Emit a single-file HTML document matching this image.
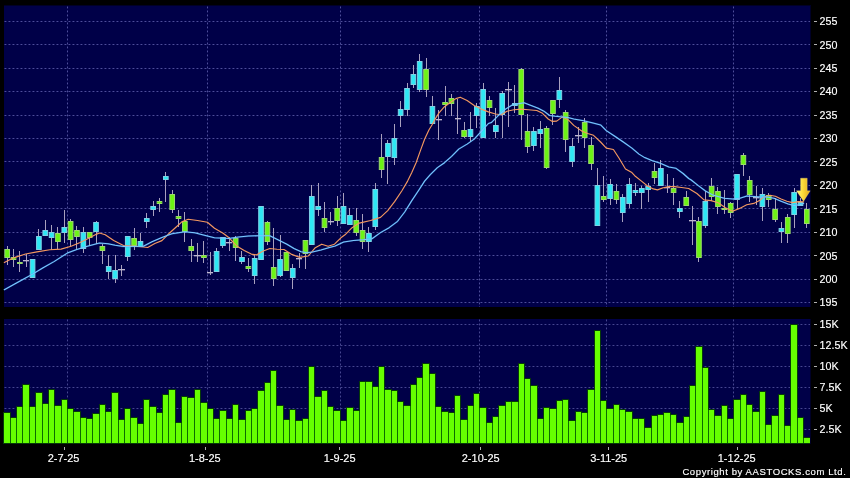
<!DOCTYPE html>
<html lang="en"><head><meta charset="utf-8"><title>Chart</title>
<style>
html,body{margin:0;padding:0;background:#000;overflow:hidden}
body{width:850px;height:478px;font-family:"Liberation Sans",Arial,sans-serif}
svg{display:block}
</style></head><body>
<svg width="850" height="478" viewBox="0 0 850 478">
<rect x="0" y="0" width="850" height="478" fill="#000"/>
<rect x="4" y="5" width="807" height="302" fill="#000026" shape-rendering="crispEdges"/>
<rect x="4" y="6" width="806" height="301" fill="#000048" shape-rendering="crispEdges"/>
<rect x="4" y="319" width="807" height="125" fill="#000026" shape-rendering="crispEdges"/>
<rect x="4" y="319" width="806" height="125" fill="#000048" shape-rendering="crispEdges"/>
<g stroke="#4e4e9a" stroke-width="1" stroke-dasharray="1.9 2.1" fill="none">
<line x1="4.5" x2="810" y1="21.5" y2="21.5"/>
<line x1="4.5" x2="810" y1="44.5" y2="44.5"/>
<line x1="4.5" x2="810" y1="68.5" y2="68.5"/>
<line x1="4.5" x2="810" y1="91.5" y2="91.5"/>
<line x1="4.5" x2="810" y1="115.5" y2="115.5"/>
<line x1="4.5" x2="810" y1="138.5" y2="138.5"/>
<line x1="4.5" x2="810" y1="161.5" y2="161.5"/>
<line x1="4.5" x2="810" y1="185.5" y2="185.5"/>
<line x1="4.5" x2="810" y1="208.5" y2="208.5"/>
<line x1="4.5" x2="810" y1="232.5" y2="232.5"/>
<line x1="4.5" x2="810" y1="255.5" y2="255.5"/>
<line x1="4.5" x2="810" y1="279.5" y2="279.5"/>
<line x1="4.5" x2="810" y1="302.5" y2="302.5"/>
<line x1="4.5" x2="810" y1="324.5" y2="324.5" stroke="#464690"/>
<line x1="4.5" x2="810" y1="345.5" y2="345.5" stroke="#464690"/>
<line x1="4.5" x2="810" y1="366.5" y2="366.5" stroke="#464690"/>
<line x1="4.5" x2="810" y1="387.5" y2="387.5" stroke="#464690"/>
<line x1="4.5" x2="810" y1="408.5" y2="408.5" stroke="#464690"/>
<line x1="4.5" x2="810" y1="429.5" y2="429.5" stroke="#464690"/>
<line x1="67.5" x2="67.5" y1="6.5" y2="307"/>
<line x1="67.5" x2="67.5" y1="319.5" y2="444" stroke="#464690"/>
<line x1="207.5" x2="207.5" y1="6.5" y2="307"/>
<line x1="207.5" x2="207.5" y1="319.5" y2="444" stroke="#464690"/>
<line x1="340.5" x2="340.5" y1="6.5" y2="307"/>
<line x1="340.5" x2="340.5" y1="319.5" y2="444" stroke="#464690"/>
<line x1="479.5" x2="479.5" y1="6.5" y2="307"/>
<line x1="479.5" x2="479.5" y1="319.5" y2="444" stroke="#464690"/>
<line x1="606.5" x2="606.5" y1="6.5" y2="307"/>
<line x1="606.5" x2="606.5" y1="319.5" y2="444" stroke="#464690"/>
<line x1="733.5" x2="733.5" y1="6.5" y2="307"/>
<line x1="733.5" x2="733.5" y1="319.5" y2="444" stroke="#464690"/>
</g>
<g stroke="#b0b0b0" stroke-width="1" shape-rendering="crispEdges">
<line x1="814" x2="817" y1="21.5" y2="21.5"/>
<line x1="814" x2="817" y1="44.5" y2="44.5"/>
<line x1="814" x2="817" y1="68.5" y2="68.5"/>
<line x1="814" x2="817" y1="91.5" y2="91.5"/>
<line x1="814" x2="817" y1="115.5" y2="115.5"/>
<line x1="814" x2="817" y1="138.5" y2="138.5"/>
<line x1="814" x2="817" y1="161.5" y2="161.5"/>
<line x1="814" x2="817" y1="185.5" y2="185.5"/>
<line x1="814" x2="817" y1="208.5" y2="208.5"/>
<line x1="814" x2="817" y1="232.5" y2="232.5"/>
<line x1="814" x2="817" y1="255.5" y2="255.5"/>
<line x1="814" x2="817" y1="279.5" y2="279.5"/>
<line x1="814" x2="817" y1="302.5" y2="302.5"/>
<line x1="814" x2="817" y1="324.5" y2="324.5"/>
<line x1="814" x2="817" y1="345.5" y2="345.5"/>
<line x1="814" x2="817" y1="366.5" y2="366.5"/>
<line x1="814" x2="817" y1="387.5" y2="387.5"/>
<line x1="814" x2="817" y1="408.5" y2="408.5"/>
<line x1="814" x2="817" y1="429.5" y2="429.5"/>
<line x1="64.5" x2="64.5" y1="447" y2="450"/>
<line x1="205.5" x2="205.5" y1="447" y2="450"/>
<line x1="339.5" x2="339.5" y1="447" y2="450"/>
<line x1="480.5" x2="480.5" y1="447" y2="450"/>
<line x1="608.5" x2="608.5" y1="447" y2="450"/>
<line x1="737.5" x2="737.5" y1="447" y2="450"/>
</g>
<g shape-rendering="crispEdges">
<rect x="3" y="412" width="8" height="32" fill="#063a08"/>
<rect x="10" y="417" width="7" height="27" fill="#063a08"/>
<rect x="16" y="406" width="7" height="38" fill="#063a08"/>
<rect x="22" y="384" width="8" height="60" fill="#063a08"/>
<rect x="29" y="406" width="7" height="38" fill="#063a08"/>
<rect x="35" y="392" width="8" height="52" fill="#063a08"/>
<rect x="42" y="403" width="7" height="41" fill="#063a08"/>
<rect x="48" y="389" width="7" height="55" fill="#063a08"/>
<rect x="54" y="405" width="8" height="39" fill="#063a08"/>
<rect x="61" y="399" width="7" height="45" fill="#063a08"/>
<rect x="67" y="408" width="7" height="36" fill="#063a08"/>
<rect x="73" y="411" width="8" height="33" fill="#063a08"/>
<rect x="80" y="417" width="7" height="27" fill="#063a08"/>
<rect x="86" y="418" width="7" height="26" fill="#063a08"/>
<rect x="92" y="413" width="8" height="31" fill="#063a08"/>
<rect x="99" y="404" width="7" height="40" fill="#063a08"/>
<rect x="105" y="411" width="7" height="33" fill="#063a08"/>
<rect x="111" y="392" width="8" height="52" fill="#063a08"/>
<rect x="118" y="419" width="7" height="25" fill="#063a08"/>
<rect x="124" y="408" width="7" height="36" fill="#063a08"/>
<rect x="130" y="417" width="8" height="27" fill="#063a08"/>
<rect x="137" y="423" width="7" height="21" fill="#063a08"/>
<rect x="143" y="399" width="7" height="45" fill="#063a08"/>
<rect x="149" y="406" width="8" height="38" fill="#063a08"/>
<rect x="156" y="412" width="7" height="32" fill="#063a08"/>
<rect x="162" y="394" width="7" height="50" fill="#063a08"/>
<rect x="168" y="389" width="8" height="55" fill="#063a08"/>
<rect x="175" y="422" width="7" height="22" fill="#063a08"/>
<rect x="181" y="396" width="7" height="48" fill="#063a08"/>
<rect x="187" y="397" width="8" height="47" fill="#063a08"/>
<rect x="194" y="389" width="7" height="55" fill="#063a08"/>
<rect x="200" y="402" width="8" height="42" fill="#063a08"/>
<rect x="207" y="408" width="7" height="36" fill="#063a08"/>
<rect x="213" y="418" width="7" height="26" fill="#063a08"/>
<rect x="219" y="410" width="8" height="34" fill="#063a08"/>
<rect x="226" y="418" width="7" height="26" fill="#063a08"/>
<rect x="232" y="404" width="7" height="40" fill="#063a08"/>
<rect x="238" y="419" width="8" height="25" fill="#063a08"/>
<rect x="245" y="410" width="7" height="34" fill="#063a08"/>
<rect x="251" y="408" width="7" height="36" fill="#063a08"/>
<rect x="257" y="390" width="8" height="54" fill="#063a08"/>
<rect x="264" y="382" width="7" height="62" fill="#063a08"/>
<rect x="270" y="370" width="7" height="74" fill="#063a08"/>
<rect x="276" y="405" width="8" height="39" fill="#063a08"/>
<rect x="283" y="419" width="7" height="25" fill="#063a08"/>
<rect x="289" y="409" width="7" height="35" fill="#063a08"/>
<rect x="295" y="420" width="8" height="24" fill="#063a08"/>
<rect x="302" y="418" width="7" height="26" fill="#063a08"/>
<rect x="308" y="366" width="7" height="78" fill="#063a08"/>
<rect x="314" y="396" width="8" height="48" fill="#063a08"/>
<rect x="321" y="390" width="7" height="54" fill="#063a08"/>
<rect x="327" y="406" width="7" height="38" fill="#063a08"/>
<rect x="333" y="410" width="8" height="34" fill="#063a08"/>
<rect x="340" y="420" width="7" height="24" fill="#063a08"/>
<rect x="346" y="407" width="8" height="37" fill="#063a08"/>
<rect x="353" y="410" width="7" height="34" fill="#063a08"/>
<rect x="359" y="381" width="7" height="63" fill="#063a08"/>
<rect x="365" y="381" width="8" height="63" fill="#063a08"/>
<rect x="372" y="386" width="7" height="58" fill="#063a08"/>
<rect x="378" y="366" width="7" height="78" fill="#063a08"/>
<rect x="384" y="389" width="8" height="55" fill="#063a08"/>
<rect x="391" y="390" width="7" height="54" fill="#063a08"/>
<rect x="397" y="401" width="7" height="43" fill="#063a08"/>
<rect x="403" y="405" width="8" height="39" fill="#063a08"/>
<rect x="410" y="384" width="7" height="60" fill="#063a08"/>
<rect x="416" y="377" width="7" height="67" fill="#063a08"/>
<rect x="422" y="363" width="8" height="81" fill="#063a08"/>
<rect x="429" y="373" width="7" height="71" fill="#063a08"/>
<rect x="435" y="406" width="7" height="38" fill="#063a08"/>
<rect x="441" y="411" width="8" height="33" fill="#063a08"/>
<rect x="448" y="412" width="7" height="32" fill="#063a08"/>
<rect x="454" y="395" width="7" height="49" fill="#063a08"/>
<rect x="460" y="419" width="8" height="25" fill="#063a08"/>
<rect x="467" y="405" width="7" height="39" fill="#063a08"/>
<rect x="473" y="393" width="7" height="51" fill="#063a08"/>
<rect x="479" y="407" width="8" height="37" fill="#063a08"/>
<rect x="486" y="422" width="7" height="22" fill="#063a08"/>
<rect x="492" y="416" width="7" height="28" fill="#063a08"/>
<rect x="498" y="405" width="8" height="39" fill="#063a08"/>
<rect x="505" y="401" width="7" height="43" fill="#063a08"/>
<rect x="511" y="401" width="8" height="43" fill="#063a08"/>
<rect x="518" y="363" width="7" height="81" fill="#063a08"/>
<rect x="524" y="378" width="7" height="66" fill="#063a08"/>
<rect x="530" y="385" width="8" height="59" fill="#063a08"/>
<rect x="537" y="418" width="7" height="26" fill="#063a08"/>
<rect x="543" y="407" width="7" height="37" fill="#063a08"/>
<rect x="549" y="408" width="8" height="36" fill="#063a08"/>
<rect x="556" y="400" width="7" height="44" fill="#063a08"/>
<rect x="562" y="399" width="7" height="45" fill="#063a08"/>
<rect x="568" y="420" width="8" height="24" fill="#063a08"/>
<rect x="575" y="411" width="7" height="33" fill="#063a08"/>
<rect x="581" y="412" width="7" height="32" fill="#063a08"/>
<rect x="587" y="389" width="8" height="55" fill="#063a08"/>
<rect x="594" y="330" width="7" height="114" fill="#063a08"/>
<rect x="600" y="400" width="7" height="44" fill="#063a08"/>
<rect x="606" y="408" width="8" height="36" fill="#063a08"/>
<rect x="613" y="404" width="7" height="40" fill="#063a08"/>
<rect x="619" y="409" width="7" height="35" fill="#063a08"/>
<rect x="625" y="411" width="8" height="33" fill="#063a08"/>
<rect x="632" y="418" width="7" height="26" fill="#063a08"/>
<rect x="638" y="418" width="7" height="26" fill="#063a08"/>
<rect x="644" y="427" width="8" height="17" fill="#063a08"/>
<rect x="651" y="415" width="7" height="29" fill="#063a08"/>
<rect x="657" y="414" width="7" height="30" fill="#063a08"/>
<rect x="663" y="412" width="8" height="32" fill="#063a08"/>
<rect x="670" y="414" width="7" height="30" fill="#063a08"/>
<rect x="676" y="422" width="8" height="22" fill="#063a08"/>
<rect x="683" y="416" width="7" height="28" fill="#063a08"/>
<rect x="689" y="385" width="7" height="59" fill="#063a08"/>
<rect x="695" y="346" width="8" height="98" fill="#063a08"/>
<rect x="702" y="367" width="7" height="77" fill="#063a08"/>
<rect x="708" y="409" width="7" height="35" fill="#063a08"/>
<rect x="714" y="415" width="8" height="29" fill="#063a08"/>
<rect x="721" y="405" width="7" height="39" fill="#063a08"/>
<rect x="727" y="418" width="7" height="26" fill="#063a08"/>
<rect x="733" y="399" width="8" height="45" fill="#063a08"/>
<rect x="740" y="394" width="7" height="50" fill="#063a08"/>
<rect x="746" y="404" width="7" height="40" fill="#063a08"/>
<rect x="752" y="411" width="8" height="33" fill="#063a08"/>
<rect x="759" y="391" width="7" height="53" fill="#063a08"/>
<rect x="765" y="424" width="7" height="20" fill="#063a08"/>
<rect x="771" y="415" width="8" height="29" fill="#063a08"/>
<rect x="778" y="394" width="7" height="50" fill="#063a08"/>
<rect x="784" y="425" width="7" height="19" fill="#063a08"/>
<rect x="790" y="324" width="8" height="120" fill="#063a08"/>
<rect x="797" y="417" width="7" height="27" fill="#063a08"/>
<rect x="803" y="437" width="7" height="7" fill="#063a08"/>
<rect x="4" y="413" width="6" height="30" fill="#66ff00"/>
<rect x="11" y="418" width="5" height="25" fill="#66ff00"/>
<rect x="17" y="407" width="5" height="36" fill="#66ff00"/>
<rect x="23" y="385" width="6" height="58" fill="#66ff00"/>
<rect x="30" y="407" width="5" height="36" fill="#66ff00"/>
<rect x="36" y="393" width="6" height="50" fill="#66ff00"/>
<rect x="43" y="404" width="5" height="39" fill="#66ff00"/>
<rect x="49" y="390" width="5" height="53" fill="#66ff00"/>
<rect x="55" y="406" width="6" height="37" fill="#66ff00"/>
<rect x="62" y="400" width="5" height="43" fill="#66ff00"/>
<rect x="68" y="409" width="5" height="34" fill="#66ff00"/>
<rect x="74" y="412" width="6" height="31" fill="#66ff00"/>
<rect x="81" y="418" width="5" height="25" fill="#66ff00"/>
<rect x="87" y="419" width="5" height="24" fill="#66ff00"/>
<rect x="93" y="414" width="6" height="29" fill="#66ff00"/>
<rect x="100" y="405" width="5" height="38" fill="#66ff00"/>
<rect x="106" y="412" width="5" height="31" fill="#66ff00"/>
<rect x="112" y="393" width="6" height="50" fill="#66ff00"/>
<rect x="119" y="420" width="5" height="23" fill="#66ff00"/>
<rect x="125" y="409" width="5" height="34" fill="#66ff00"/>
<rect x="131" y="418" width="6" height="25" fill="#66ff00"/>
<rect x="138" y="424" width="5" height="19" fill="#66ff00"/>
<rect x="144" y="400" width="5" height="43" fill="#66ff00"/>
<rect x="150" y="407" width="6" height="36" fill="#66ff00"/>
<rect x="157" y="413" width="5" height="30" fill="#66ff00"/>
<rect x="163" y="395" width="5" height="48" fill="#66ff00"/>
<rect x="169" y="390" width="6" height="53" fill="#66ff00"/>
<rect x="176" y="423" width="5" height="20" fill="#66ff00"/>
<rect x="182" y="397" width="5" height="46" fill="#66ff00"/>
<rect x="188" y="398" width="6" height="45" fill="#66ff00"/>
<rect x="195" y="390" width="5" height="53" fill="#66ff00"/>
<rect x="201" y="403" width="6" height="40" fill="#66ff00"/>
<rect x="208" y="409" width="5" height="34" fill="#66ff00"/>
<rect x="214" y="419" width="5" height="24" fill="#66ff00"/>
<rect x="220" y="411" width="6" height="32" fill="#66ff00"/>
<rect x="227" y="419" width="5" height="24" fill="#66ff00"/>
<rect x="233" y="405" width="5" height="38" fill="#66ff00"/>
<rect x="239" y="420" width="6" height="23" fill="#66ff00"/>
<rect x="246" y="411" width="5" height="32" fill="#66ff00"/>
<rect x="252" y="409" width="5" height="34" fill="#66ff00"/>
<rect x="258" y="391" width="6" height="52" fill="#66ff00"/>
<rect x="265" y="383" width="5" height="60" fill="#66ff00"/>
<rect x="271" y="371" width="5" height="72" fill="#66ff00"/>
<rect x="277" y="406" width="6" height="37" fill="#66ff00"/>
<rect x="284" y="420" width="5" height="23" fill="#66ff00"/>
<rect x="290" y="410" width="5" height="33" fill="#66ff00"/>
<rect x="296" y="421" width="6" height="22" fill="#66ff00"/>
<rect x="303" y="419" width="5" height="24" fill="#66ff00"/>
<rect x="309" y="367" width="5" height="76" fill="#66ff00"/>
<rect x="315" y="397" width="6" height="46" fill="#66ff00"/>
<rect x="322" y="391" width="5" height="52" fill="#66ff00"/>
<rect x="328" y="407" width="5" height="36" fill="#66ff00"/>
<rect x="334" y="411" width="6" height="32" fill="#66ff00"/>
<rect x="341" y="421" width="5" height="22" fill="#66ff00"/>
<rect x="347" y="408" width="6" height="35" fill="#66ff00"/>
<rect x="354" y="411" width="5" height="32" fill="#66ff00"/>
<rect x="360" y="382" width="5" height="61" fill="#66ff00"/>
<rect x="366" y="382" width="6" height="61" fill="#66ff00"/>
<rect x="373" y="387" width="5" height="56" fill="#66ff00"/>
<rect x="379" y="367" width="5" height="76" fill="#66ff00"/>
<rect x="385" y="390" width="6" height="53" fill="#66ff00"/>
<rect x="392" y="391" width="5" height="52" fill="#66ff00"/>
<rect x="398" y="402" width="5" height="41" fill="#66ff00"/>
<rect x="404" y="406" width="6" height="37" fill="#66ff00"/>
<rect x="411" y="385" width="5" height="58" fill="#66ff00"/>
<rect x="417" y="378" width="5" height="65" fill="#66ff00"/>
<rect x="423" y="364" width="6" height="79" fill="#66ff00"/>
<rect x="430" y="374" width="5" height="69" fill="#66ff00"/>
<rect x="436" y="407" width="5" height="36" fill="#66ff00"/>
<rect x="442" y="412" width="6" height="31" fill="#66ff00"/>
<rect x="449" y="413" width="5" height="30" fill="#66ff00"/>
<rect x="455" y="396" width="5" height="47" fill="#66ff00"/>
<rect x="461" y="420" width="6" height="23" fill="#66ff00"/>
<rect x="468" y="406" width="5" height="37" fill="#66ff00"/>
<rect x="474" y="394" width="5" height="49" fill="#66ff00"/>
<rect x="480" y="408" width="6" height="35" fill="#66ff00"/>
<rect x="487" y="423" width="5" height="20" fill="#66ff00"/>
<rect x="493" y="417" width="5" height="26" fill="#66ff00"/>
<rect x="499" y="406" width="6" height="37" fill="#66ff00"/>
<rect x="506" y="402" width="5" height="41" fill="#66ff00"/>
<rect x="512" y="402" width="6" height="41" fill="#66ff00"/>
<rect x="519" y="364" width="5" height="79" fill="#66ff00"/>
<rect x="525" y="379" width="5" height="64" fill="#66ff00"/>
<rect x="531" y="386" width="6" height="57" fill="#66ff00"/>
<rect x="538" y="419" width="5" height="24" fill="#66ff00"/>
<rect x="544" y="408" width="5" height="35" fill="#66ff00"/>
<rect x="550" y="409" width="6" height="34" fill="#66ff00"/>
<rect x="557" y="401" width="5" height="42" fill="#66ff00"/>
<rect x="563" y="400" width="5" height="43" fill="#66ff00"/>
<rect x="569" y="421" width="6" height="22" fill="#66ff00"/>
<rect x="576" y="412" width="5" height="31" fill="#66ff00"/>
<rect x="582" y="413" width="5" height="30" fill="#66ff00"/>
<rect x="588" y="390" width="6" height="53" fill="#66ff00"/>
<rect x="595" y="331" width="5" height="112" fill="#66ff00"/>
<rect x="601" y="401" width="5" height="42" fill="#66ff00"/>
<rect x="607" y="409" width="6" height="34" fill="#66ff00"/>
<rect x="614" y="405" width="5" height="38" fill="#66ff00"/>
<rect x="620" y="410" width="5" height="33" fill="#66ff00"/>
<rect x="626" y="412" width="6" height="31" fill="#66ff00"/>
<rect x="633" y="419" width="5" height="24" fill="#66ff00"/>
<rect x="639" y="419" width="5" height="24" fill="#66ff00"/>
<rect x="645" y="428" width="6" height="15" fill="#66ff00"/>
<rect x="652" y="416" width="5" height="27" fill="#66ff00"/>
<rect x="658" y="415" width="5" height="28" fill="#66ff00"/>
<rect x="664" y="413" width="6" height="30" fill="#66ff00"/>
<rect x="671" y="415" width="5" height="28" fill="#66ff00"/>
<rect x="677" y="423" width="6" height="20" fill="#66ff00"/>
<rect x="684" y="417" width="5" height="26" fill="#66ff00"/>
<rect x="690" y="386" width="5" height="57" fill="#66ff00"/>
<rect x="696" y="347" width="6" height="96" fill="#66ff00"/>
<rect x="703" y="368" width="5" height="75" fill="#66ff00"/>
<rect x="709" y="410" width="5" height="33" fill="#66ff00"/>
<rect x="715" y="416" width="6" height="27" fill="#66ff00"/>
<rect x="722" y="406" width="5" height="37" fill="#66ff00"/>
<rect x="728" y="419" width="5" height="24" fill="#66ff00"/>
<rect x="734" y="400" width="6" height="43" fill="#66ff00"/>
<rect x="741" y="395" width="5" height="48" fill="#66ff00"/>
<rect x="747" y="405" width="5" height="38" fill="#66ff00"/>
<rect x="753" y="412" width="6" height="31" fill="#66ff00"/>
<rect x="760" y="392" width="5" height="51" fill="#66ff00"/>
<rect x="766" y="425" width="5" height="18" fill="#66ff00"/>
<rect x="772" y="416" width="6" height="27" fill="#66ff00"/>
<rect x="779" y="395" width="5" height="48" fill="#66ff00"/>
<rect x="785" y="426" width="5" height="17" fill="#66ff00"/>
<rect x="791" y="325" width="6" height="118" fill="#66ff00"/>
<rect x="798" y="418" width="5" height="25" fill="#66ff00"/>
<rect x="804" y="438" width="6" height="5" fill="#66ff00"/>
<rect x="10" y="418" width="1" height="25" fill="#0c6c00"/>
<rect x="16" y="418" width="1" height="25" fill="#0c6c00"/>
<rect x="22" y="407" width="1" height="36" fill="#0c6c00"/>
<rect x="29" y="407" width="1" height="36" fill="#0c6c00"/>
<rect x="35" y="407" width="1" height="36" fill="#0c6c00"/>
<rect x="42" y="404" width="1" height="39" fill="#0c6c00"/>
<rect x="48" y="404" width="1" height="39" fill="#0c6c00"/>
<rect x="54" y="406" width="1" height="37" fill="#0c6c00"/>
<rect x="61" y="406" width="1" height="37" fill="#0c6c00"/>
<rect x="67" y="409" width="1" height="34" fill="#0c6c00"/>
<rect x="73" y="412" width="1" height="31" fill="#0c6c00"/>
<rect x="80" y="418" width="1" height="25" fill="#0c6c00"/>
<rect x="86" y="419" width="1" height="24" fill="#0c6c00"/>
<rect x="92" y="419" width="1" height="24" fill="#0c6c00"/>
<rect x="99" y="414" width="1" height="29" fill="#0c6c00"/>
<rect x="105" y="412" width="1" height="31" fill="#0c6c00"/>
<rect x="111" y="412" width="1" height="31" fill="#0c6c00"/>
<rect x="118" y="420" width="1" height="23" fill="#0c6c00"/>
<rect x="124" y="420" width="1" height="23" fill="#0c6c00"/>
<rect x="130" y="418" width="1" height="25" fill="#0c6c00"/>
<rect x="137" y="424" width="1" height="19" fill="#0c6c00"/>
<rect x="143" y="424" width="1" height="19" fill="#0c6c00"/>
<rect x="149" y="407" width="1" height="36" fill="#0c6c00"/>
<rect x="156" y="413" width="1" height="30" fill="#0c6c00"/>
<rect x="162" y="413" width="1" height="30" fill="#0c6c00"/>
<rect x="168" y="395" width="1" height="48" fill="#0c6c00"/>
<rect x="175" y="423" width="1" height="20" fill="#0c6c00"/>
<rect x="181" y="423" width="1" height="20" fill="#0c6c00"/>
<rect x="187" y="398" width="1" height="45" fill="#0c6c00"/>
<rect x="194" y="398" width="1" height="45" fill="#0c6c00"/>
<rect x="200" y="403" width="1" height="40" fill="#0c6c00"/>
<rect x="207" y="409" width="1" height="34" fill="#0c6c00"/>
<rect x="213" y="419" width="1" height="24" fill="#0c6c00"/>
<rect x="219" y="419" width="1" height="24" fill="#0c6c00"/>
<rect x="226" y="419" width="1" height="24" fill="#0c6c00"/>
<rect x="232" y="419" width="1" height="24" fill="#0c6c00"/>
<rect x="238" y="420" width="1" height="23" fill="#0c6c00"/>
<rect x="245" y="420" width="1" height="23" fill="#0c6c00"/>
<rect x="251" y="411" width="1" height="32" fill="#0c6c00"/>
<rect x="257" y="409" width="1" height="34" fill="#0c6c00"/>
<rect x="264" y="391" width="1" height="52" fill="#0c6c00"/>
<rect x="270" y="383" width="1" height="60" fill="#0c6c00"/>
<rect x="276" y="406" width="1" height="37" fill="#0c6c00"/>
<rect x="283" y="420" width="1" height="23" fill="#0c6c00"/>
<rect x="289" y="420" width="1" height="23" fill="#0c6c00"/>
<rect x="295" y="421" width="1" height="22" fill="#0c6c00"/>
<rect x="302" y="421" width="1" height="22" fill="#0c6c00"/>
<rect x="308" y="419" width="1" height="24" fill="#0c6c00"/>
<rect x="314" y="397" width="1" height="46" fill="#0c6c00"/>
<rect x="321" y="397" width="1" height="46" fill="#0c6c00"/>
<rect x="327" y="407" width="1" height="36" fill="#0c6c00"/>
<rect x="333" y="411" width="1" height="32" fill="#0c6c00"/>
<rect x="340" y="421" width="1" height="22" fill="#0c6c00"/>
<rect x="346" y="421" width="1" height="22" fill="#0c6c00"/>
<rect x="353" y="411" width="1" height="32" fill="#0c6c00"/>
<rect x="359" y="411" width="1" height="32" fill="#0c6c00"/>
<rect x="365" y="382" width="1" height="61" fill="#0c6c00"/>
<rect x="372" y="387" width="1" height="56" fill="#0c6c00"/>
<rect x="378" y="387" width="1" height="56" fill="#0c6c00"/>
<rect x="384" y="390" width="1" height="53" fill="#0c6c00"/>
<rect x="391" y="391" width="1" height="52" fill="#0c6c00"/>
<rect x="397" y="402" width="1" height="41" fill="#0c6c00"/>
<rect x="403" y="406" width="1" height="37" fill="#0c6c00"/>
<rect x="410" y="406" width="1" height="37" fill="#0c6c00"/>
<rect x="416" y="385" width="1" height="58" fill="#0c6c00"/>
<rect x="422" y="378" width="1" height="65" fill="#0c6c00"/>
<rect x="429" y="374" width="1" height="69" fill="#0c6c00"/>
<rect x="435" y="407" width="1" height="36" fill="#0c6c00"/>
<rect x="441" y="412" width="1" height="31" fill="#0c6c00"/>
<rect x="448" y="413" width="1" height="30" fill="#0c6c00"/>
<rect x="454" y="413" width="1" height="30" fill="#0c6c00"/>
<rect x="460" y="420" width="1" height="23" fill="#0c6c00"/>
<rect x="467" y="420" width="1" height="23" fill="#0c6c00"/>
<rect x="473" y="406" width="1" height="37" fill="#0c6c00"/>
<rect x="479" y="408" width="1" height="35" fill="#0c6c00"/>
<rect x="486" y="423" width="1" height="20" fill="#0c6c00"/>
<rect x="492" y="423" width="1" height="20" fill="#0c6c00"/>
<rect x="498" y="417" width="1" height="26" fill="#0c6c00"/>
<rect x="505" y="406" width="1" height="37" fill="#0c6c00"/>
<rect x="511" y="402" width="1" height="41" fill="#0c6c00"/>
<rect x="518" y="402" width="1" height="41" fill="#0c6c00"/>
<rect x="524" y="379" width="1" height="64" fill="#0c6c00"/>
<rect x="530" y="386" width="1" height="57" fill="#0c6c00"/>
<rect x="537" y="419" width="1" height="24" fill="#0c6c00"/>
<rect x="543" y="419" width="1" height="24" fill="#0c6c00"/>
<rect x="549" y="409" width="1" height="34" fill="#0c6c00"/>
<rect x="556" y="409" width="1" height="34" fill="#0c6c00"/>
<rect x="562" y="401" width="1" height="42" fill="#0c6c00"/>
<rect x="568" y="421" width="1" height="22" fill="#0c6c00"/>
<rect x="575" y="421" width="1" height="22" fill="#0c6c00"/>
<rect x="581" y="413" width="1" height="30" fill="#0c6c00"/>
<rect x="587" y="413" width="1" height="30" fill="#0c6c00"/>
<rect x="594" y="390" width="1" height="53" fill="#0c6c00"/>
<rect x="600" y="401" width="1" height="42" fill="#0c6c00"/>
<rect x="606" y="409" width="1" height="34" fill="#0c6c00"/>
<rect x="613" y="409" width="1" height="34" fill="#0c6c00"/>
<rect x="619" y="410" width="1" height="33" fill="#0c6c00"/>
<rect x="625" y="412" width="1" height="31" fill="#0c6c00"/>
<rect x="632" y="419" width="1" height="24" fill="#0c6c00"/>
<rect x="638" y="419" width="1" height="24" fill="#0c6c00"/>
<rect x="644" y="428" width="1" height="15" fill="#0c6c00"/>
<rect x="651" y="428" width="1" height="15" fill="#0c6c00"/>
<rect x="657" y="416" width="1" height="27" fill="#0c6c00"/>
<rect x="663" y="415" width="1" height="28" fill="#0c6c00"/>
<rect x="670" y="415" width="1" height="28" fill="#0c6c00"/>
<rect x="676" y="423" width="1" height="20" fill="#0c6c00"/>
<rect x="683" y="423" width="1" height="20" fill="#0c6c00"/>
<rect x="689" y="417" width="1" height="26" fill="#0c6c00"/>
<rect x="695" y="386" width="1" height="57" fill="#0c6c00"/>
<rect x="702" y="368" width="1" height="75" fill="#0c6c00"/>
<rect x="708" y="410" width="1" height="33" fill="#0c6c00"/>
<rect x="714" y="416" width="1" height="27" fill="#0c6c00"/>
<rect x="721" y="416" width="1" height="27" fill="#0c6c00"/>
<rect x="727" y="419" width="1" height="24" fill="#0c6c00"/>
<rect x="733" y="419" width="1" height="24" fill="#0c6c00"/>
<rect x="740" y="400" width="1" height="43" fill="#0c6c00"/>
<rect x="746" y="405" width="1" height="38" fill="#0c6c00"/>
<rect x="752" y="412" width="1" height="31" fill="#0c6c00"/>
<rect x="759" y="412" width="1" height="31" fill="#0c6c00"/>
<rect x="765" y="425" width="1" height="18" fill="#0c6c00"/>
<rect x="771" y="425" width="1" height="18" fill="#0c6c00"/>
<rect x="778" y="416" width="1" height="27" fill="#0c6c00"/>
<rect x="784" y="426" width="1" height="17" fill="#0c6c00"/>
<rect x="790" y="426" width="1" height="17" fill="#0c6c00"/>
<rect x="797" y="418" width="1" height="25" fill="#0c6c00"/>
<rect x="803" y="438" width="1" height="5" fill="#0c6c00"/>
</g>
<g>
<rect x="7" y="246" width="1" height="19" fill="#a8a0be" shape-rendering="crispEdges"/>
<rect x="4.85" y="249.5" width="4.65" height="8" fill="#6cf414" stroke="#9cd86c" stroke-width="1"/>
<rect x="13" y="249" width="1" height="18" fill="#a8a0be" shape-rendering="crispEdges"/>
<rect x="11.20" y="257.5" width="4.65" height="2" fill="#6cf414" stroke="#9cd86c" stroke-width="1"/>
<rect x="19" y="251" width="1" height="21" fill="#a8a0be" shape-rendering="crispEdges"/>
<rect x="17.54" y="262.5" width="4.65" height="1" fill="#6cf414" stroke="#9cd86c" stroke-width="1"/>
<rect x="26" y="254" width="1" height="13" fill="#a8a0be" shape-rendering="crispEdges"/>
<rect x="23" y="260" width="6" height="1" fill="#beb6d0" shape-rendering="crispEdges"/>
<rect x="23" y="261" width="6" height="1" fill="#beb6d0" opacity="0.35" shape-rendering="crispEdges"/>
<rect x="32" y="259" width="1" height="19" fill="#a8a0be" shape-rendering="crispEdges"/>
<rect x="30.24" y="259.5" width="4.65" height="18" fill="#2ee8f4" stroke="#7fd0e6" stroke-width="1"/>
<rect x="38" y="229" width="1" height="21" fill="#a8a0be" shape-rendering="crispEdges"/>
<rect x="36.58" y="236.5" width="4.65" height="13" fill="#2ee8f4" stroke="#7fd0e6" stroke-width="1"/>
<rect x="45" y="220" width="1" height="16" fill="#a8a0be" shape-rendering="crispEdges"/>
<rect x="42.93" y="230.5" width="4.65" height="5" fill="#2ee8f4" stroke="#7fd0e6" stroke-width="1"/>
<rect x="51" y="225" width="1" height="25" fill="#a8a0be" shape-rendering="crispEdges"/>
<rect x="49.28" y="232.5" width="4.65" height="5" fill="#2ee8f4" stroke="#7fd0e6" stroke-width="1"/>
<rect x="57" y="227" width="1" height="22" fill="#a8a0be" shape-rendering="crispEdges"/>
<rect x="55.62" y="233.5" width="4.65" height="8" fill="#6cf414" stroke="#9cd86c" stroke-width="1"/>
<rect x="64" y="210" width="1" height="33" fill="#a8a0be" shape-rendering="crispEdges"/>
<rect x="61.97" y="227.5" width="4.65" height="5" fill="#2ee8f4" stroke="#7fd0e6" stroke-width="1"/>
<rect x="70" y="219" width="1" height="27" fill="#a8a0be" shape-rendering="crispEdges"/>
<rect x="68.31" y="221.5" width="4.65" height="18" fill="#6cf414" stroke="#9cd86c" stroke-width="1"/>
<rect x="76" y="226" width="1" height="24" fill="#a8a0be" shape-rendering="crispEdges"/>
<rect x="74.66" y="230.5" width="4.65" height="6" fill="#6cf414" stroke="#9cd86c" stroke-width="1"/>
<rect x="83" y="227" width="1" height="26" fill="#a8a0be" shape-rendering="crispEdges"/>
<rect x="81.01" y="232.5" width="4.65" height="16" fill="#2ee8f4" stroke="#7fd0e6" stroke-width="1"/>
<rect x="89" y="232" width="1" height="14" fill="#a8a0be" shape-rendering="crispEdges"/>
<rect x="87.35" y="232.5" width="4.65" height="5" fill="#6cf414" stroke="#9cd86c" stroke-width="1"/>
<rect x="96" y="221" width="1" height="23" fill="#a8a0be" shape-rendering="crispEdges"/>
<rect x="93.70" y="222.5" width="4.65" height="9" fill="#2ee8f4" stroke="#7fd0e6" stroke-width="1"/>
<rect x="102" y="244" width="1" height="20" fill="#a8a0be" shape-rendering="crispEdges"/>
<rect x="100.05" y="246.5" width="4.65" height="4" fill="#6cf414" stroke="#9cd86c" stroke-width="1"/>
<rect x="108" y="255" width="1" height="24" fill="#a8a0be" shape-rendering="crispEdges"/>
<rect x="106.39" y="266.5" width="4.65" height="5" fill="#2ee8f4" stroke="#7fd0e6" stroke-width="1"/>
<rect x="115" y="255" width="1" height="28" fill="#a8a0be" shape-rendering="crispEdges"/>
<rect x="112.74" y="270.5" width="4.65" height="8" fill="#2ee8f4" stroke="#7fd0e6" stroke-width="1"/>
<rect x="121" y="265" width="1" height="11" fill="#a8a0be" shape-rendering="crispEdges"/>
<rect x="118" y="269" width="7" height="1" fill="#beb6d0" shape-rendering="crispEdges"/>
<rect x="118" y="270" width="7" height="1" fill="#beb6d0" opacity="0.35" shape-rendering="crispEdges"/>
<rect x="127" y="236" width="1" height="25" fill="#a8a0be" shape-rendering="crispEdges"/>
<rect x="125.43" y="236.5" width="4.65" height="20" fill="#2ee8f4" stroke="#7fd0e6" stroke-width="1"/>
<rect x="134" y="228" width="1" height="22" fill="#a8a0be" shape-rendering="crispEdges"/>
<rect x="131.78" y="238.5" width="4.65" height="7" fill="#6cf414" stroke="#9cd86c" stroke-width="1"/>
<rect x="140" y="233" width="1" height="14" fill="#a8a0be" shape-rendering="crispEdges"/>
<rect x="138.13" y="241.5" width="4.65" height="5" fill="#2ee8f4" stroke="#7fd0e6" stroke-width="1"/>
<rect x="146" y="213" width="1" height="15" fill="#a8a0be" shape-rendering="crispEdges"/>
<rect x="144.47" y="218.5" width="4.65" height="3" fill="#2ee8f4" stroke="#7fd0e6" stroke-width="1"/>
<rect x="153" y="201" width="1" height="15" fill="#a8a0be" shape-rendering="crispEdges"/>
<rect x="150.82" y="206.5" width="4.65" height="3" fill="#2ee8f4" stroke="#7fd0e6" stroke-width="1"/>
<rect x="159" y="198" width="1" height="14" fill="#a8a0be" shape-rendering="crispEdges"/>
<rect x="157.16" y="201.5" width="4.65" height="2" fill="#6cf414" stroke="#9cd86c" stroke-width="1"/>
<rect x="165" y="172" width="1" height="30" fill="#a8a0be" shape-rendering="crispEdges"/>
<rect x="163.51" y="176.5" width="4.65" height="3" fill="#2ee8f4" stroke="#7fd0e6" stroke-width="1"/>
<rect x="172" y="190" width="1" height="23" fill="#a8a0be" shape-rendering="crispEdges"/>
<rect x="169.86" y="194.5" width="4.65" height="15" fill="#6cf414" stroke="#9cd86c" stroke-width="1"/>
<rect x="178" y="210" width="1" height="17" fill="#a8a0be" shape-rendering="crispEdges"/>
<rect x="176.20" y="216.5" width="4.65" height="2" fill="#6cf414" stroke="#9cd86c" stroke-width="1"/>
<rect x="184" y="212" width="1" height="30" fill="#a8a0be" shape-rendering="crispEdges"/>
<rect x="182.55" y="221.5" width="4.65" height="10" fill="#6cf414" stroke="#9cd86c" stroke-width="1"/>
<rect x="191" y="239" width="1" height="23" fill="#a8a0be" shape-rendering="crispEdges"/>
<rect x="188.90" y="246.5" width="4.65" height="4" fill="#6cf414" stroke="#9cd86c" stroke-width="1"/>
<rect x="197" y="243" width="1" height="19" fill="#a8a0be" shape-rendering="crispEdges"/>
<rect x="194" y="255" width="7" height="1" fill="#beb6d0" shape-rendering="crispEdges"/>
<rect x="194" y="256" width="7" height="1" fill="#beb6d0" opacity="0.35" shape-rendering="crispEdges"/>
<rect x="203" y="241" width="1" height="22" fill="#a8a0be" shape-rendering="crispEdges"/>
<rect x="201.59" y="255.5" width="4.65" height="2" fill="#6cf414" stroke="#9cd86c" stroke-width="1"/>
<rect x="210" y="252" width="1" height="23" fill="#a8a0be" shape-rendering="crispEdges"/>
<rect x="207" y="272" width="6" height="1" fill="#beb6d0" shape-rendering="crispEdges"/>
<rect x="207" y="273" width="6" height="1" fill="#beb6d0" opacity="0.35" shape-rendering="crispEdges"/>
<rect x="216" y="248" width="1" height="24" fill="#a8a0be" shape-rendering="crispEdges"/>
<rect x="214.28" y="251.5" width="4.65" height="20" fill="#2ee8f4" stroke="#7fd0e6" stroke-width="1"/>
<rect x="222" y="237" width="1" height="11" fill="#a8a0be" shape-rendering="crispEdges"/>
<rect x="220.63" y="237.5" width="4.65" height="8" fill="#2ee8f4" stroke="#7fd0e6" stroke-width="1"/>
<rect x="229" y="237" width="1" height="14" fill="#a8a0be" shape-rendering="crispEdges"/>
<rect x="226" y="242" width="6" height="1" fill="#beb6d0" shape-rendering="crispEdges"/>
<rect x="226" y="243" width="6" height="1" fill="#beb6d0" opacity="0.35" shape-rendering="crispEdges"/>
<rect x="235" y="236" width="1" height="25" fill="#a8a0be" shape-rendering="crispEdges"/>
<rect x="233.32" y="238.5" width="4.65" height="9" fill="#6cf414" stroke="#9cd86c" stroke-width="1"/>
<rect x="241" y="251" width="1" height="13" fill="#a8a0be" shape-rendering="crispEdges"/>
<rect x="239.67" y="257.5" width="4.65" height="4" fill="#2ee8f4" stroke="#7fd0e6" stroke-width="1"/>
<rect x="248" y="258" width="1" height="14" fill="#a8a0be" shape-rendering="crispEdges"/>
<rect x="246.02" y="266.5" width="4.65" height="2" fill="#6cf414" stroke="#9cd86c" stroke-width="1"/>
<rect x="254" y="255" width="1" height="29" fill="#a8a0be" shape-rendering="crispEdges"/>
<rect x="252.36" y="258.5" width="4.65" height="17" fill="#2ee8f4" stroke="#7fd0e6" stroke-width="1"/>
<rect x="261" y="206" width="1" height="54" fill="#a8a0be" shape-rendering="crispEdges"/>
<rect x="258.71" y="206.5" width="4.65" height="53" fill="#2ee8f4" stroke="#7fd0e6" stroke-width="1"/>
<rect x="267" y="221" width="1" height="24" fill="#a8a0be" shape-rendering="crispEdges"/>
<rect x="265.05" y="222.5" width="4.65" height="19" fill="#6cf414" stroke="#9cd86c" stroke-width="1"/>
<rect x="273" y="228" width="1" height="58" fill="#a8a0be" shape-rendering="crispEdges"/>
<rect x="271.40" y="267.5" width="4.65" height="11" fill="#6cf414" stroke="#9cd86c" stroke-width="1"/>
<rect x="280" y="235" width="1" height="42" fill="#a8a0be" shape-rendering="crispEdges"/>
<rect x="277.75" y="259.5" width="4.65" height="16" fill="#2ee8f4" stroke="#7fd0e6" stroke-width="1"/>
<rect x="286" y="252" width="1" height="19" fill="#a8a0be" shape-rendering="crispEdges"/>
<rect x="284.09" y="252.5" width="4.65" height="18" fill="#6cf414" stroke="#9cd86c" stroke-width="1"/>
<rect x="292" y="264" width="1" height="25" fill="#a8a0be" shape-rendering="crispEdges"/>
<rect x="290.44" y="268.5" width="4.65" height="9" fill="#2ee8f4" stroke="#7fd0e6" stroke-width="1"/>
<rect x="299" y="253" width="1" height="15" fill="#a8a0be" shape-rendering="crispEdges"/>
<rect x="296" y="258" width="6" height="1" fill="#beb6d0" shape-rendering="crispEdges"/>
<rect x="296" y="259" width="6" height="1" fill="#beb6d0" opacity="0.35" shape-rendering="crispEdges"/>
<rect x="305" y="240" width="1" height="29" fill="#a8a0be" shape-rendering="crispEdges"/>
<rect x="303.13" y="240.5" width="4.65" height="13" fill="#6cf414" stroke="#9cd86c" stroke-width="1"/>
<rect x="311" y="185" width="1" height="60" fill="#a8a0be" shape-rendering="crispEdges"/>
<rect x="309.48" y="196.5" width="4.65" height="48" fill="#2ee8f4" stroke="#7fd0e6" stroke-width="1"/>
<rect x="318" y="183" width="1" height="33" fill="#a8a0be" shape-rendering="crispEdges"/>
<rect x="315.83" y="206.5" width="4.65" height="3" fill="#2ee8f4" stroke="#7fd0e6" stroke-width="1"/>
<rect x="324" y="202" width="1" height="30" fill="#a8a0be" shape-rendering="crispEdges"/>
<rect x="322.17" y="218.5" width="4.65" height="9" fill="#6cf414" stroke="#9cd86c" stroke-width="1"/>
<rect x="330" y="212" width="1" height="13" fill="#a8a0be" shape-rendering="crispEdges"/>
<rect x="328" y="221" width="6" height="1" fill="#beb6d0" shape-rendering="crispEdges"/>
<rect x="328" y="222" width="6" height="1" fill="#beb6d0" opacity="0.35" shape-rendering="crispEdges"/>
<rect x="337" y="196" width="1" height="30" fill="#a8a0be" shape-rendering="crispEdges"/>
<rect x="334.87" y="208.5" width="4.65" height="12" fill="#6cf414" stroke="#9cd86c" stroke-width="1"/>
<rect x="343" y="193" width="1" height="31" fill="#a8a0be" shape-rendering="crispEdges"/>
<rect x="341.21" y="206.5" width="4.65" height="17" fill="#2ee8f4" stroke="#7fd0e6" stroke-width="1"/>
<rect x="349" y="208" width="1" height="17" fill="#a8a0be" shape-rendering="crispEdges"/>
<rect x="347.56" y="215.5" width="4.65" height="9" fill="#2ee8f4" stroke="#7fd0e6" stroke-width="1"/>
<rect x="356" y="208" width="1" height="28" fill="#a8a0be" shape-rendering="crispEdges"/>
<rect x="353.91" y="220.5" width="4.65" height="12" fill="#6cf414" stroke="#9cd86c" stroke-width="1"/>
<rect x="362" y="214" width="1" height="35" fill="#a8a0be" shape-rendering="crispEdges"/>
<rect x="360.25" y="230.5" width="4.65" height="11" fill="#6cf414" stroke="#9cd86c" stroke-width="1"/>
<rect x="368" y="227" width="1" height="25" fill="#a8a0be" shape-rendering="crispEdges"/>
<rect x="366.60" y="233.5" width="4.65" height="8" fill="#2ee8f4" stroke="#7fd0e6" stroke-width="1"/>
<rect x="375" y="183" width="1" height="47" fill="#a8a0be" shape-rendering="crispEdges"/>
<rect x="372.94" y="189.5" width="4.65" height="37" fill="#2ee8f4" stroke="#7fd0e6" stroke-width="1"/>
<rect x="381" y="134" width="1" height="44" fill="#a8a0be" shape-rendering="crispEdges"/>
<rect x="379.29" y="157.5" width="4.65" height="12" fill="#6cf414" stroke="#9cd86c" stroke-width="1"/>
<rect x="387" y="140" width="1" height="44" fill="#a8a0be" shape-rendering="crispEdges"/>
<rect x="385.64" y="143.5" width="4.65" height="13" fill="#2ee8f4" stroke="#7fd0e6" stroke-width="1"/>
<rect x="394" y="124" width="1" height="41" fill="#a8a0be" shape-rendering="crispEdges"/>
<rect x="391.98" y="138.5" width="4.65" height="19" fill="#2ee8f4" stroke="#7fd0e6" stroke-width="1"/>
<rect x="400" y="101" width="1" height="26" fill="#a8a0be" shape-rendering="crispEdges"/>
<rect x="398.33" y="109.5" width="4.65" height="6" fill="#2ee8f4" stroke="#7fd0e6" stroke-width="1"/>
<rect x="407" y="83" width="1" height="33" fill="#a8a0be" shape-rendering="crispEdges"/>
<rect x="404.68" y="88.5" width="4.65" height="21" fill="#2ee8f4" stroke="#7fd0e6" stroke-width="1"/>
<rect x="413" y="65" width="1" height="23" fill="#a8a0be" shape-rendering="crispEdges"/>
<rect x="411.02" y="74.5" width="4.65" height="10" fill="#2ee8f4" stroke="#7fd0e6" stroke-width="1"/>
<rect x="419" y="54" width="1" height="38" fill="#a8a0be" shape-rendering="crispEdges"/>
<rect x="417.37" y="61.5" width="4.65" height="28" fill="#2ee8f4" stroke="#7fd0e6" stroke-width="1"/>
<rect x="426" y="58" width="1" height="39" fill="#a8a0be" shape-rendering="crispEdges"/>
<rect x="423.72" y="69.5" width="4.65" height="20" fill="#6cf414" stroke="#9cd86c" stroke-width="1"/>
<rect x="432" y="96" width="1" height="28" fill="#a8a0be" shape-rendering="crispEdges"/>
<rect x="430.06" y="106.5" width="4.65" height="17" fill="#2ee8f4" stroke="#7fd0e6" stroke-width="1"/>
<rect x="438" y="110" width="1" height="30" fill="#a8a0be" shape-rendering="crispEdges"/>
<rect x="436" y="119" width="6" height="1" fill="#beb6d0" shape-rendering="crispEdges"/>
<rect x="436" y="120" width="6" height="1" fill="#beb6d0" opacity="0.35" shape-rendering="crispEdges"/>
<rect x="445" y="86" width="1" height="30" fill="#a8a0be" shape-rendering="crispEdges"/>
<rect x="442.76" y="102.5" width="4.65" height="2" fill="#6cf414" stroke="#9cd86c" stroke-width="1"/>
<rect x="451" y="94" width="1" height="22" fill="#a8a0be" shape-rendering="crispEdges"/>
<rect x="449.10" y="98.5" width="4.65" height="5" fill="#6cf414" stroke="#9cd86c" stroke-width="1"/>
<rect x="457" y="99" width="1" height="35" fill="#a8a0be" shape-rendering="crispEdges"/>
<rect x="455" y="118" width="6" height="1" fill="#beb6d0" shape-rendering="crispEdges"/>
<rect x="455" y="119" width="6" height="1" fill="#beb6d0" opacity="0.35" shape-rendering="crispEdges"/>
<rect x="464" y="122" width="1" height="16" fill="#a8a0be" shape-rendering="crispEdges"/>
<rect x="461.79" y="130.5" width="4.65" height="6" fill="#6cf414" stroke="#9cd86c" stroke-width="1"/>
<rect x="470" y="112" width="1" height="30" fill="#a8a0be" shape-rendering="crispEdges"/>
<rect x="468.14" y="129.5" width="4.65" height="7" fill="#2ee8f4" stroke="#7fd0e6" stroke-width="1"/>
<rect x="476" y="103" width="1" height="25" fill="#a8a0be" shape-rendering="crispEdges"/>
<rect x="474.49" y="106.5" width="4.65" height="9" fill="#2ee8f4" stroke="#7fd0e6" stroke-width="1"/>
<rect x="483" y="83" width="1" height="55" fill="#a8a0be" shape-rendering="crispEdges"/>
<rect x="480.83" y="89.5" width="4.65" height="48" fill="#2ee8f4" stroke="#7fd0e6" stroke-width="1"/>
<rect x="489" y="96" width="1" height="20" fill="#a8a0be" shape-rendering="crispEdges"/>
<rect x="487.18" y="100.5" width="4.65" height="7" fill="#6cf414" stroke="#9cd86c" stroke-width="1"/>
<rect x="495" y="108" width="1" height="30" fill="#a8a0be" shape-rendering="crispEdges"/>
<rect x="493.53" y="125.5" width="4.65" height="6" fill="#2ee8f4" stroke="#7fd0e6" stroke-width="1"/>
<rect x="502" y="91" width="1" height="47" fill="#a8a0be" shape-rendering="crispEdges"/>
<rect x="499.87" y="93.5" width="4.65" height="21" fill="#2ee8f4" stroke="#7fd0e6" stroke-width="1"/>
<rect x="508" y="82" width="1" height="45" fill="#a8a0be" shape-rendering="crispEdges"/>
<rect x="505" y="89" width="7" height="1" fill="#beb6d0" shape-rendering="crispEdges"/>
<rect x="505" y="90" width="7" height="1" fill="#beb6d0" opacity="0.35" shape-rendering="crispEdges"/>
<rect x="514" y="85" width="1" height="28" fill="#a8a0be" shape-rendering="crispEdges"/>
<rect x="512.57" y="103.5" width="4.65" height="2" fill="#2ee8f4" stroke="#7fd0e6" stroke-width="1"/>
<rect x="521" y="68" width="1" height="72" fill="#a8a0be" shape-rendering="crispEdges"/>
<rect x="518.91" y="69.5" width="4.65" height="45" fill="#6cf414" stroke="#9cd86c" stroke-width="1"/>
<rect x="527" y="114" width="1" height="39" fill="#a8a0be" shape-rendering="crispEdges"/>
<rect x="525.26" y="131.5" width="4.65" height="15" fill="#6cf414" stroke="#9cd86c" stroke-width="1"/>
<rect x="533" y="127" width="1" height="24" fill="#a8a0be" shape-rendering="crispEdges"/>
<rect x="531.61" y="131.5" width="4.65" height="14" fill="#2ee8f4" stroke="#7fd0e6" stroke-width="1"/>
<rect x="540" y="121" width="1" height="27" fill="#a8a0be" shape-rendering="crispEdges"/>
<rect x="537.95" y="129.5" width="4.65" height="4" fill="#2ee8f4" stroke="#7fd0e6" stroke-width="1"/>
<rect x="546" y="126" width="1" height="43" fill="#a8a0be" shape-rendering="crispEdges"/>
<rect x="544.30" y="128.5" width="4.65" height="39" fill="#6cf414" stroke="#9cd86c" stroke-width="1"/>
<rect x="552" y="100" width="1" height="25" fill="#a8a0be" shape-rendering="crispEdges"/>
<rect x="550.65" y="100.5" width="4.65" height="13" fill="#6cf414" stroke="#9cd86c" stroke-width="1"/>
<rect x="559" y="77" width="1" height="31" fill="#a8a0be" shape-rendering="crispEdges"/>
<rect x="556.99" y="90.5" width="4.65" height="9" fill="#2ee8f4" stroke="#7fd0e6" stroke-width="1"/>
<rect x="565" y="110" width="1" height="42" fill="#a8a0be" shape-rendering="crispEdges"/>
<rect x="563.34" y="112.5" width="4.65" height="27" fill="#6cf414" stroke="#9cd86c" stroke-width="1"/>
<rect x="572" y="138" width="1" height="29" fill="#a8a0be" shape-rendering="crispEdges"/>
<rect x="569.68" y="146.5" width="4.65" height="15" fill="#2ee8f4" stroke="#7fd0e6" stroke-width="1"/>
<rect x="578" y="127" width="1" height="16" fill="#a8a0be" shape-rendering="crispEdges"/>
<rect x="575" y="135" width="7" height="1" fill="#beb6d0" shape-rendering="crispEdges"/>
<rect x="575" y="136" width="7" height="1" fill="#beb6d0" opacity="0.35" shape-rendering="crispEdges"/>
<rect x="584" y="118" width="1" height="30" fill="#a8a0be" shape-rendering="crispEdges"/>
<rect x="582.38" y="122.5" width="4.65" height="15" fill="#6cf414" stroke="#9cd86c" stroke-width="1"/>
<rect x="591" y="137" width="1" height="33" fill="#a8a0be" shape-rendering="crispEdges"/>
<rect x="588.72" y="145.5" width="4.65" height="18" fill="#6cf414" stroke="#9cd86c" stroke-width="1"/>
<rect x="597" y="168" width="1" height="58" fill="#a8a0be" shape-rendering="crispEdges"/>
<rect x="595.07" y="185.5" width="4.65" height="40" fill="#2ee8f4" stroke="#7fd0e6" stroke-width="1"/>
<rect x="603" y="176" width="1" height="26" fill="#a8a0be" shape-rendering="crispEdges"/>
<rect x="601.42" y="196.5" width="4.65" height="3" fill="#6cf414" stroke="#9cd86c" stroke-width="1"/>
<rect x="610" y="179" width="1" height="26" fill="#a8a0be" shape-rendering="crispEdges"/>
<rect x="607.76" y="184.5" width="4.65" height="14" fill="#2ee8f4" stroke="#7fd0e6" stroke-width="1"/>
<rect x="616" y="184" width="1" height="20" fill="#a8a0be" shape-rendering="crispEdges"/>
<rect x="614.11" y="191.5" width="4.65" height="8" fill="#6cf414" stroke="#9cd86c" stroke-width="1"/>
<rect x="622" y="194" width="1" height="28" fill="#a8a0be" shape-rendering="crispEdges"/>
<rect x="620.46" y="197.5" width="4.65" height="15" fill="#2ee8f4" stroke="#7fd0e6" stroke-width="1"/>
<rect x="629" y="178" width="1" height="30" fill="#a8a0be" shape-rendering="crispEdges"/>
<rect x="626.80" y="184.5" width="4.65" height="19" fill="#2ee8f4" stroke="#7fd0e6" stroke-width="1"/>
<rect x="635" y="183" width="1" height="13" fill="#a8a0be" shape-rendering="crispEdges"/>
<rect x="633.15" y="190.5" width="4.65" height="2" fill="#2ee8f4" stroke="#7fd0e6" stroke-width="1"/>
<rect x="641" y="186" width="1" height="23" fill="#a8a0be" shape-rendering="crispEdges"/>
<rect x="639.50" y="188.5" width="4.65" height="4" fill="#2ee8f4" stroke="#7fd0e6" stroke-width="1"/>
<rect x="648" y="183" width="1" height="19" fill="#a8a0be" shape-rendering="crispEdges"/>
<rect x="645.84" y="186.5" width="4.65" height="3" fill="#2ee8f4" stroke="#7fd0e6" stroke-width="1"/>
<rect x="654" y="163" width="1" height="21" fill="#a8a0be" shape-rendering="crispEdges"/>
<rect x="652.19" y="171.5" width="4.65" height="6" fill="#6cf414" stroke="#9cd86c" stroke-width="1"/>
<rect x="660" y="160" width="1" height="26" fill="#a8a0be" shape-rendering="crispEdges"/>
<rect x="658.54" y="168.5" width="4.65" height="17" fill="#2ee8f4" stroke="#7fd0e6" stroke-width="1"/>
<rect x="667" y="174" width="1" height="19" fill="#a8a0be" shape-rendering="crispEdges"/>
<rect x="664" y="187" width="6" height="1" fill="#beb6d0" shape-rendering="crispEdges"/>
<rect x="664" y="188" width="6" height="1" fill="#beb6d0" opacity="0.35" shape-rendering="crispEdges"/>
<rect x="673" y="178" width="1" height="27" fill="#a8a0be" shape-rendering="crispEdges"/>
<rect x="671.23" y="188.5" width="4.65" height="4" fill="#6cf414" stroke="#9cd86c" stroke-width="1"/>
<rect x="679" y="201" width="1" height="17" fill="#a8a0be" shape-rendering="crispEdges"/>
<rect x="677.57" y="208.5" width="4.65" height="3" fill="#2ee8f4" stroke="#7fd0e6" stroke-width="1"/>
<rect x="686" y="191" width="1" height="15" fill="#a8a0be" shape-rendering="crispEdges"/>
<rect x="683.92" y="197.5" width="4.65" height="8" fill="#6cf414" stroke="#9cd86c" stroke-width="1"/>
<rect x="692" y="206" width="1" height="39" fill="#a8a0be" shape-rendering="crispEdges"/>
<rect x="689" y="220" width="7" height="1" fill="#beb6d0" shape-rendering="crispEdges"/>
<rect x="689" y="221" width="7" height="1" fill="#beb6d0" opacity="0.35" shape-rendering="crispEdges"/>
<rect x="698" y="217" width="1" height="45" fill="#a8a0be" shape-rendering="crispEdges"/>
<rect x="696.61" y="221.5" width="4.65" height="36" fill="#6cf414" stroke="#9cd86c" stroke-width="1"/>
<rect x="705" y="191" width="1" height="37" fill="#a8a0be" shape-rendering="crispEdges"/>
<rect x="702.96" y="201.5" width="4.65" height="24" fill="#2ee8f4" stroke="#7fd0e6" stroke-width="1"/>
<rect x="711" y="178" width="1" height="23" fill="#a8a0be" shape-rendering="crispEdges"/>
<rect x="709.31" y="186.5" width="4.65" height="10" fill="#6cf414" stroke="#9cd86c" stroke-width="1"/>
<rect x="717" y="187" width="1" height="27" fill="#a8a0be" shape-rendering="crispEdges"/>
<rect x="715.65" y="191.5" width="4.65" height="15" fill="#6cf414" stroke="#9cd86c" stroke-width="1"/>
<rect x="724" y="190" width="1" height="24" fill="#a8a0be" shape-rendering="crispEdges"/>
<rect x="722.00" y="208.5" width="4.65" height="1" fill="#6cf414" stroke="#9cd86c" stroke-width="1"/>
<rect x="730" y="202" width="1" height="16" fill="#a8a0be" shape-rendering="crispEdges"/>
<rect x="728.35" y="203.5" width="4.65" height="9" fill="#6cf414" stroke="#9cd86c" stroke-width="1"/>
<rect x="737" y="174" width="1" height="35" fill="#a8a0be" shape-rendering="crispEdges"/>
<rect x="734.69" y="174.5" width="4.65" height="25" fill="#2ee8f4" stroke="#7fd0e6" stroke-width="1"/>
<rect x="743" y="153" width="1" height="23" fill="#a8a0be" shape-rendering="crispEdges"/>
<rect x="741.04" y="155.5" width="4.65" height="9" fill="#6cf414" stroke="#9cd86c" stroke-width="1"/>
<rect x="749" y="176" width="1" height="26" fill="#a8a0be" shape-rendering="crispEdges"/>
<rect x="747.39" y="180.5" width="4.65" height="14" fill="#6cf414" stroke="#9cd86c" stroke-width="1"/>
<rect x="756" y="186" width="1" height="19" fill="#a8a0be" shape-rendering="crispEdges"/>
<rect x="753" y="197" width="6" height="1" fill="#beb6d0" shape-rendering="crispEdges"/>
<rect x="753" y="198" width="6" height="1" fill="#beb6d0" opacity="0.35" shape-rendering="crispEdges"/>
<rect x="762" y="188" width="1" height="33" fill="#a8a0be" shape-rendering="crispEdges"/>
<rect x="760.08" y="194.5" width="4.65" height="12" fill="#2ee8f4" stroke="#7fd0e6" stroke-width="1"/>
<rect x="768" y="193" width="1" height="14" fill="#a8a0be" shape-rendering="crispEdges"/>
<rect x="766.42" y="195.5" width="4.65" height="4" fill="#6cf414" stroke="#9cd86c" stroke-width="1"/>
<rect x="775" y="198" width="1" height="24" fill="#a8a0be" shape-rendering="crispEdges"/>
<rect x="772.77" y="209.5" width="4.65" height="10" fill="#6cf414" stroke="#9cd86c" stroke-width="1"/>
<rect x="781" y="222" width="1" height="21" fill="#a8a0be" shape-rendering="crispEdges"/>
<rect x="779.12" y="228.5" width="4.65" height="3" fill="#2ee8f4" stroke="#7fd0e6" stroke-width="1"/>
<rect x="787" y="214" width="1" height="29" fill="#a8a0be" shape-rendering="crispEdges"/>
<rect x="785.46" y="217.5" width="4.65" height="16" fill="#6cf414" stroke="#9cd86c" stroke-width="1"/>
<rect x="794" y="188" width="1" height="40" fill="#a8a0be" shape-rendering="crispEdges"/>
<rect x="791.81" y="192.5" width="4.65" height="22" fill="#2ee8f4" stroke="#7fd0e6" stroke-width="1"/>
<rect x="800" y="198" width="1" height="8" fill="#a8a0be" shape-rendering="crispEdges"/>
<rect x="798.16" y="202.5" width="4.65" height="3" fill="#2ee8f4" stroke="#7fd0e6" stroke-width="1"/>
<rect x="806" y="203" width="1" height="25" fill="#a8a0be" shape-rendering="crispEdges"/>
<rect x="804.50" y="209.5" width="4.65" height="14" fill="#6cf414" stroke="#9cd86c" stroke-width="1"/>
</g>
<polyline points="4.3,262.6 14.2,257.6 25.6,254.0 37.0,251.9 49.8,249.8 61.1,249.1 71.1,246.2 79.6,242.7 88.2,238.4 96.7,234.1 99.5,233.0 105.2,234.8 113.7,240.5 123.5,245.6 134.9,246.3 143.4,247.0 147.7,247.5 154.8,243.5 161.9,240.6 169.0,233.5 177.6,225.7 181.8,221.9 188.2,219.3 197.5,220.5 207.4,222.3 214.5,228.3 223.1,233.3 228.7,237.5 237.1,246.3 244.2,250.6 251.3,254.1 256.3,254.9 262.7,251.3 269.8,248.5 276.9,249.2 284.0,249.5 291.1,254.1 299.7,257.4 308.2,256.0 315.3,247.7 321.7,244.2 328.1,246.3 334.5,244.2 340.9,237.8 345.0,234.8 352.1,227.7 359.2,223.1 370.6,220.5 380.5,217.4 387.7,210.6 394.8,201.4 401.9,190.7 407.6,181.1 411.8,172.6 416.1,162.7 420.4,150.6 424.6,139.2 428.9,130.0 432.4,124.3 434.6,120.0 438.8,113.1 444.5,106.7 450.2,102.5 455.9,98.6 460.2,97.2 467.1,100.5 474.2,105.5 481.3,109.1 488.4,111.9 495.5,114.0 501.2,114.7 506.9,111.2 514.0,109.8 521.1,109.1 528.2,109.8 536.8,110.5 542.5,113.3 548.2,119.0 552.4,121.4 556.7,121.1 562.4,116.9 568.1,119.7 573.7,125.4 582.1,131.3 587.8,133.5 593.5,135.3 600.6,142.0 606.3,148.1 613.4,149.5 619.1,158.3 625.5,169.0 631.9,172.6 634.7,175.7 641.8,181.4 647.5,186.0 653.2,188.9 657.5,189.9 663.2,187.7 668.8,186.6 674.5,186.6 681.6,187.5 688.7,188.5 696.9,193.5 704.0,199.9 711.1,200.6 718.2,202.7 725.4,207.7 732.5,211.2 739.6,208.4 746.7,204.8 753.8,203.4 759.5,200.6 763.7,197.0 770.0,195.3 775.4,196.2 781.1,199.0 786.8,201.2 792.5,202.6 798.2,201.6 803.6,201.9" fill="none" stroke="#f49860" stroke-width="1.15" stroke-linejoin="round" stroke-linecap="round" opacity="1"/>
<polyline points="4.3,289.7 14.2,284.3 24.2,278.7 32.6,274.1 42.7,268.0 54.0,261.6 67.3,253.1 76.8,249.5 88.2,246.0 99.5,243.1 108.1,243.8 115.2,245.2 123.5,246.6 143.4,246.3 152.0,241.8 161.9,237.5 171.9,233.8 184.7,231.8 194.6,232.8 207.4,236.1 214.5,237.8 228.7,238.5 238.5,237.1 248.5,236.1 258.4,235.7 269.8,235.7 276.9,239.2 286.9,244.2 294.0,248.5 301.1,251.7 306.8,252.7 312.5,252.0 321.0,249.9 329.5,247.5 335.2,246.0 343.7,242.1 353.5,240.5 363.5,239.7 372.0,238.7 380.5,232.6 389.1,227.7 397.6,221.3 404.7,212.0 411.8,200.6 418.9,190.0 424.6,181.1 430.3,174.7 437.4,167.6 444.5,162.7 451.6,156.3 458.7,149.1 467.1,144.1 474.2,139.1 481.3,131.3 488.4,123.5 491.3,122.6 498.4,115.5 505.5,109.1 512.6,104.8 518.3,103.8 524.0,102.7 531.1,105.5 538.2,108.3 543.9,111.2 549.6,115.5 555.3,116.2 562.4,116.9 568.1,117.6 573.7,119.0 583.5,120.7 592.1,122.8 600.6,124.9 606.3,130.6 614.8,136.3 623.3,142.0 631.9,148.1 639.0,154.1 644.7,157.6 651.8,160.5 660.3,163.3 668.8,166.9 676.0,168.3 683.1,173.5 688.7,178.5 691.2,180.0 698.3,185.6 705.5,191.0 712.6,194.9 717.1,196.2 724.2,198.3 732.7,199.0 739.9,198.3 747.0,195.9 754.1,196.5 759.8,196.9 766.9,196.9 774.0,198.3 781.1,201.2 788.2,204.0 793.9,205.4 799.6,204.7 803.6,203.4" fill="none" stroke="#3c9cf8" stroke-width="1.7" stroke-linejoin="round" stroke-linecap="round" opacity="0.35"/>
<polyline points="4.3,289.7 14.2,284.3 24.2,278.7 32.6,274.1 42.7,268.0 54.0,261.6 67.3,253.1 76.8,249.5 88.2,246.0 99.5,243.1 108.1,243.8 115.2,245.2 123.5,246.6 143.4,246.3 152.0,241.8 161.9,237.5 171.9,233.8 184.7,231.8 194.6,232.8 207.4,236.1 214.5,237.8 228.7,238.5 238.5,237.1 248.5,236.1 258.4,235.7 269.8,235.7 276.9,239.2 286.9,244.2 294.0,248.5 301.1,251.7 306.8,252.7 312.5,252.0 321.0,249.9 329.5,247.5 335.2,246.0 343.7,242.1 353.5,240.5 363.5,239.7 372.0,238.7 380.5,232.6 389.1,227.7 397.6,221.3 404.7,212.0 411.8,200.6 418.9,190.0 424.6,181.1 430.3,174.7 437.4,167.6 444.5,162.7 451.6,156.3 458.7,149.1 467.1,144.1 474.2,139.1 481.3,131.3 488.4,123.5 491.3,122.6 498.4,115.5 505.5,109.1 512.6,104.8 518.3,103.8 524.0,102.7 531.1,105.5 538.2,108.3 543.9,111.2 549.6,115.5 555.3,116.2 562.4,116.9 568.1,117.6 573.7,119.0 583.5,120.7 592.1,122.8 600.6,124.9 606.3,130.6 614.8,136.3 623.3,142.0 631.9,148.1 639.0,154.1 644.7,157.6 651.8,160.5 660.3,163.3 668.8,166.9 676.0,168.3 683.1,173.5 688.7,178.5 691.2,180.0 698.3,185.6 705.5,191.0 712.6,194.9 717.1,196.2 724.2,198.3 732.7,199.0 739.9,198.3 747.0,195.9 754.1,196.5 759.8,196.9 766.9,196.9 774.0,198.3 781.1,201.2 788.2,204.0 793.9,205.4 799.6,204.7 803.6,203.4" fill="none" stroke="#7ccaff" stroke-width="1.05" stroke-linejoin="round" stroke-linecap="round" opacity="1"/>
<defs><linearGradient id="ag" x1="0" y1="0" x2="1" y2="0"><stop offset="0" stop-color="#fff07c"/><stop offset="0.4" stop-color="#ffe040"/><stop offset="1" stop-color="#e4a818"/></linearGradient></defs>
<path d="M800.6 178.2 H807.2 V190.8 H810.2 L803.6 201.2 L796.4 190.8 H800.6 Z" fill="url(#ag)" stroke="#ffe98a" stroke-width="0.5" stroke-opacity="0.6"/>
<g fill="#ffffff" stroke="#ffffff" stroke-width="0.15" font-family="'Liberation Sans', Arial, sans-serif">
<text transform="translate(819.6,25.1) scale(0.975,1.05)" text-anchor="start" font-size="11px">255</text>
<text transform="translate(819.6,49.1) scale(0.975,1.05)" text-anchor="start" font-size="11px">250</text>
<text transform="translate(819.6,72.1) scale(0.975,1.05)" text-anchor="start" font-size="11px">245</text>
<text transform="translate(819.6,95.1) scale(0.975,1.05)" text-anchor="start" font-size="11px">240</text>
<text transform="translate(819.6,119.1) scale(0.975,1.05)" text-anchor="start" font-size="11px">235</text>
<text transform="translate(819.6,142.1) scale(0.975,1.05)" text-anchor="start" font-size="11px">230</text>
<text transform="translate(819.6,166.1) scale(0.975,1.05)" text-anchor="start" font-size="11px">225</text>
<text transform="translate(819.6,189.1) scale(0.975,1.05)" text-anchor="start" font-size="11px">220</text>
<text transform="translate(819.6,213.1) scale(0.975,1.05)" text-anchor="start" font-size="11px">215</text>
<text transform="translate(819.6,236.1) scale(0.975,1.05)" text-anchor="start" font-size="11px">210</text>
<text transform="translate(819.6,260.1) scale(0.975,1.05)" text-anchor="start" font-size="11px">205</text>
<text transform="translate(819.6,283.1) scale(0.975,1.05)" text-anchor="start" font-size="11px">200</text>
<text transform="translate(819.6,306.1) scale(0.975,1.05)" text-anchor="start" font-size="11px">195</text>
<text transform="translate(819.6,327.6) scale(0.975,1.05)" text-anchor="start" font-size="11px">15K</text>
<text transform="translate(819.6,348.6) scale(0.975,1.05)" text-anchor="start" font-size="11px">12.5K</text>
<text transform="translate(819.6,369.6) scale(0.975,1.05)" text-anchor="start" font-size="11px">10K</text>
<text transform="translate(819.6,390.6) scale(0.975,1.05)" text-anchor="start" font-size="11px">7.5K</text>
<text transform="translate(819.6,411.6) scale(0.975,1.05)" text-anchor="start" font-size="11px">5K</text>
<text transform="translate(819.6,432.6) scale(0.975,1.05)" text-anchor="start" font-size="11px">2.5K</text>
<text transform="translate(63.6,462.1) scale(1.0,1.05)" text-anchor="middle" font-size="11px">2-7-25</text>
<text transform="translate(204.8,462.1) scale(1.0,1.05)" text-anchor="middle" font-size="11px">1-8-25</text>
<text transform="translate(339.7,462.1) scale(1.0,1.05)" text-anchor="middle" font-size="11px">1-9-25</text>
<text transform="translate(480.7,462.1) scale(1.0,1.05)" text-anchor="middle" font-size="11px">2-10-25</text>
<text transform="translate(608.7,462.1) scale(1.0,1.05)" text-anchor="middle" font-size="11px">3-11-25</text>
<text transform="translate(736.7,462.1) scale(1.0,1.05)" text-anchor="middle" font-size="11px">1-12-25</text>
<text x="682.4" y="474.5" font-size="9.5px" textLength="163.4" lengthAdjust="spacing">Copyright by AASTOCKS.com Ltd.</text>
</g>
</svg>
</body></html>
